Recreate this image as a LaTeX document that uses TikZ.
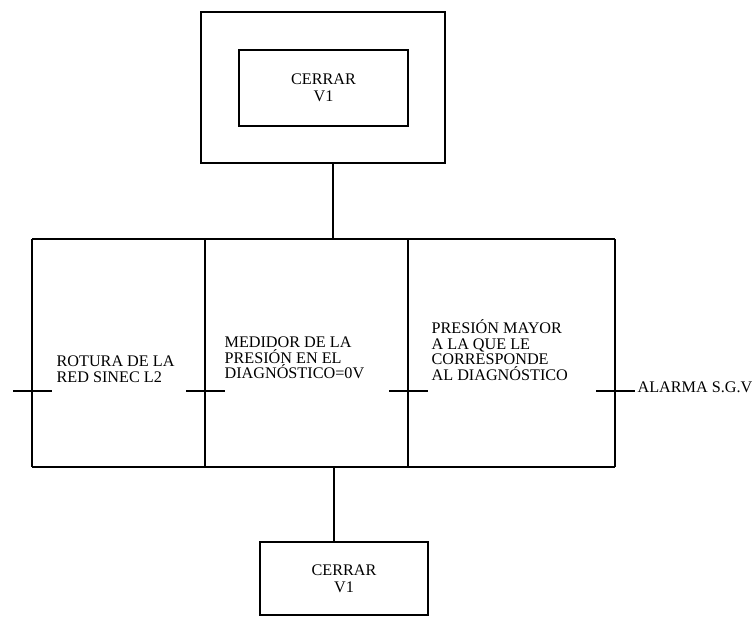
\documentclass[tikz,border=0pt]{standalone}
\usepackage{fontspec}
\setmainfont{Liberation Serif}
\begin{document}
\begin{tikzpicture}[x=1pt,y=-1pt,line width=1.2pt,
  box/.style={draw,inner sep=0pt},
  ctr/.style={font=\fontsize{16.2}{17}\selectfont,align=center},
  lbl/.style={font=\fontsize{16.2}{15.6}\selectfont,align=left,anchor=west,inner sep=0pt}]
\useasboundingbox (0,0) rectangle (754,618);
% top step
\node[box,minimum width=244pt,minimum height=151pt] (outer) at (323,87.5) {};
\node[box,ctr,minimum width=169pt,minimum height=76pt] (inner) at (323.5,88) {CERRAR\\V1};
% bottom step
\node[box,ctr,minimum width=168pt,minimum height=73pt] (bottom) at (344,578.5) {CERRAR\\V1};
% branch frame
\coordinate (a1) at (32,239);  \coordinate (b1) at (32,467);
\coordinate (a2) at (205,239); \coordinate (b2) at (205,467);
\coordinate (a3) at (408,239); \coordinate (b3) at (408,467);
\coordinate (a4) at (615,239); \coordinate (b4) at (615,467);
\draw (a1) -- (a4);
\draw (b1) -- (b4);
\draw (a1) -- (b1);
\draw (a2) -- (b2);
\draw (a3) -- (b3);
\draw (a4) -- (b4);
% connectors
\coordinate (c1) at (333,239);
\draw (outer.south -| c1) -- (c1);
\coordinate (c2) at (334,467);
\draw (c2) -- (c2 |- bottom.north);
% transitions
\coordinate (t1) at (32,391);
\coordinate (t2) at (205,391);
\coordinate (t3) at (408,391);
\coordinate (t4) at (615,391);
\foreach \t in {t1,t2,t3,t4}{\draw ([xshift=-19pt]\t) -- ([xshift=20pt]\t);}
% labels
\node[lbl] (l1) at (56,369.5) {ROTURA DE LA\\RED SINEC L2};
\node[lbl] (l2) at (224,358) {MEDIDOR DE LA\\PRESIÓN EN EL\\DIAGNÓSTICO=0V};
\node[lbl] (l3) at (431,350) {PRESIÓN MAYOR\\A LA QUE LE\\CORRESPONDE\\AL DIAGNÓSTICO};
\node[lbl] (l4) at (637,387) {ALARMA S.G.V};
\end{tikzpicture}
\end{document}
